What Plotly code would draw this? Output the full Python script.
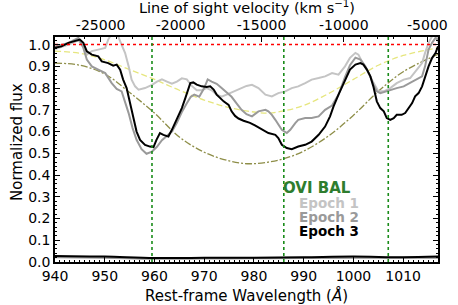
import numpy as np
import plotly.graph_objects as go

# ---------------- data ----------------
wave3 = [940.0, 941.3, 942.7, 944.0, 945.0, 945.7, 946.4, 947.4, 948.7, 949.4, 950.7, 951.7, 952.4, 953.1,
         953.7, 954.4, 955.1, 955.8, 956.4, 957.1, 958.1, 959.1, 959.8, 960.4, 961.1, 961.8, 962.8, 963.5,
         964.1, 964.8, 965.5, 966.2, 966.8, 967.2, 967.8, 968.5, 969.5, 970.5, 971.2, 971.9, 972.5, 973.2,
         973.9, 974.9, 975.5, 976.2, 976.9, 977.9, 979.2, 980.2, 981.6, 982.9, 984.3, 984.9, 985.6, 986.6,
         987.6, 988.9, 990.3, 991.6, 993.0, 994.3, 995.3, 996.0, 997.0, 998.0, 998.7, 999.3, 1000.4, 1001.4,
         1002.0, 1002.7, 1003.4, 1004.0, 1004.7, 1005.4, 1006.1, 1006.7, 1007.4, 1008.1, 1008.7, 1009.7,
         1010.4, 1011.1, 1011.8, 1012.4, 1013.1, 1013.8, 1014.4, 1015.1, 1015.8, 1016.5, 1017.0]
flux3 = [0.985, 0.992, 1.008, 1.015, 1.023, 1.008, 0.969, 0.954, 0.946, 0.923, 0.915, 0.903, 0.908, 0.885,
         0.839, 0.800, 0.731, 0.654, 0.600, 0.562, 0.539, 0.531, 0.528, 0.562, 0.593, 0.585, 0.577, 0.608,
         0.639, 0.677, 0.708, 0.754, 0.793, 0.823, 0.826, 0.816, 0.808, 0.805, 0.808, 0.793, 0.770, 0.754,
         0.739, 0.723, 0.693, 0.672, 0.660, 0.650, 0.640, 0.628, 0.608, 0.593, 0.585, 0.570, 0.539, 0.524,
         0.519, 0.531, 0.539, 0.554, 0.585, 0.623, 0.670, 0.716, 0.770, 0.823, 0.854, 0.885, 0.908, 0.915,
         0.908, 0.885, 0.854, 0.808, 0.739, 0.708, 0.693, 0.662, 0.654, 0.662, 0.677, 0.677,
         0.685, 0.708, 0.731, 0.762, 0.777, 0.808, 0.854, 0.900, 0.938, 0.961, 0.992]

wave2 = [940.0, 942.7, 944.7, 945.7, 946.4, 947.4, 948.7, 950.1, 951.4, 952.4, 953.4, 954.1, 954.8, 955.6,
         956.4, 957.4, 958.4, 959.5, 960.5, 961.5, 962.5, 963.5, 964.5, 965.5, 966.5, 967.3, 968.0, 969.0,
         970.0, 970.7, 971.5, 972.5, 973.5, 974.5, 975.5, 976.5, 977.5, 978.5, 979.6, 980.9, 982.3, 982.9,
         983.6, 984.3, 984.9, 985.6, 986.6, 987.3, 988.3, 988.9, 990.3, 991.6, 993.0, 994.3, 995.7, 997.0,
         998.3, 999.3, 1000.4, 1001.4, 1002.4, 1003.4, 1004.0, 1004.7, 1005.4, 1006.4, 1007.4, 1008.7,
         1010.1, 1011.4, 1012.8, 1013.8, 1014.4, 1015.1, 1015.8, 1016.5, 1017.0]
flux2 = [0.990, 1.008, 1.031, 0.985, 0.931, 0.900, 0.885, 0.869, 0.823, 0.796, 0.785, 0.739, 0.685, 0.616,
         0.562, 0.519, 0.498, 0.508, 0.530, 0.560, 0.580, 0.600, 0.640, 0.690, 0.730, 0.760, 0.770, 0.760,
         0.800, 0.840, 0.830, 0.820, 0.800, 0.780, 0.760, 0.730, 0.700, 0.680, 0.670, 0.693, 0.700, 0.693,
         0.677, 0.654, 0.631, 0.608, 0.593, 0.608, 0.639, 0.654, 0.662, 0.662, 0.670, 0.700, 0.720, 0.770,
         0.850, 0.905, 0.940, 0.931, 0.900, 0.854, 0.816, 0.785, 0.777, 0.785, 0.793, 0.800,
         0.808, 0.823, 0.839, 0.854, 0.900, 0.977, 1.008, 1.031, 1.023]

wave1 = [940.0, 942.7, 944.7, 945.7, 946.4, 947.4, 948.7, 950.1, 950.7, 951.4, 952.1, 952.7, 953.4, 954.1,
         954.8, 955.4, 956.1, 956.8, 958.1, 959.5, 960.5, 961.5, 962.5, 963.5, 964.5, 965.5, 966.5, 967.5,
         968.5, 969.5, 970.5, 971.5, 972.5, 973.5, 974.5, 975.5, 976.5, 977.5, 978.5, 979.6, 980.9, 982.3,
         983.6, 984.9, 986.3, 987.6, 988.9, 990.3, 991.6, 993.0, 994.3, 995.7, 997.0, 998.3, 999.3, 1000.4,
         1001.0, 1001.7, 1002.7, 1003.7, 1004.4, 1005.0, 1006.1, 1007.4, 1008.7, 1010.1, 1011.4, 1012.8,
         1013.8, 1014.4, 1015.1, 1015.8, 1016.8, 1017.0]
flux1 = [0.980, 1.000, 1.020, 0.990, 0.954, 0.970, 0.977, 0.985, 1.023, 1.050, 1.050, 1.038, 0.999, 0.961,
         0.900, 0.839, 0.808, 0.793, 0.800, 0.815, 0.830, 0.840, 0.830, 0.820, 0.830, 0.845, 0.840, 0.810,
         0.790, 0.790, 0.800, 0.790, 0.770, 0.760, 0.770, 0.780, 0.790, 0.800, 0.810, 0.815, 0.800, 0.770,
         0.762, 0.777, 0.785, 0.800, 0.808, 0.823, 0.839, 0.846, 0.854, 0.869, 0.862, 0.900, 0.939, 0.962,
         0.954, 0.923, 0.885, 0.839, 0.808, 0.785, 0.785, 0.800, 0.823, 0.839, 0.846, 0.885,
         0.915, 0.962, 1.008, 1.038, 1.054, 1.008]

# smooth fits (dashed & dash-dot)
fit_wave = [940, 945, 950, 955, 960, 965, 970, 975, 980, 983, 986, 990, 995, 1000, 1005, 1010, 1017]
fit_a = [0.970, 0.960, 0.930, 0.885, 0.840, 0.790, 0.745, 0.710, 0.690, 0.685, 0.695, 0.720, 0.775,
         0.840, 0.905, 0.950, 0.985]
fit_b_wave = [940, 945, 950, 955, 960, 965, 970, 975, 979, 983, 986, 990, 995, 1000, 1005, 1010, 1017]
fit_b = [0.915, 0.905, 0.865, 0.780, 0.685, 0.575, 0.505, 0.465, 0.452, 0.460, 0.475, 0.510, 0.580,
         0.675, 0.785, 0.875, 0.955]

# error spectra
err_wave = [940, 950, 960, 970, 980, 990, 1000, 1010, 1017]
err1 = [0.025, 0.022, 0.017, 0.018, 0.018, 0.019, 0.021, 0.020, 0.021]
err2 = [0.022, 0.020, 0.015, 0.016, 0.017, 0.018, 0.020, 0.019, 0.020]
err3 = [0.028, 0.025, 0.018, 0.020, 0.020, 0.022, 0.025, 0.022, 0.025]

trough_centers = [959.5, 986.0, 1007.0]
vel_ticks = [-25000, -20000, -15000, -10000, -5000]
vel_minor = list(range(-27000, -3000, 1000))
lambda0 = 1031.93
c_kms = 299792.458
x_range = [940, 1017]
y_range = [0, 1.035]

def vel_to_wave(v):
    b = np.asarray(v, dtype=float) / c_kms
    return lambda0 * np.sqrt((1 + b) / (1 - b))

FONT = "DejaVu Sans"
C1, C2, C3 = "#c4c4c4", "#9a9a9a", "#000000"
W, H = 458, 305
# plot area in pixels: left 55, right 438, top 37, bottom 262
ML, MR, MT, MB = 55, W - 438, 37, H - 262

fig = go.Figure()
for w, e, c in [(err_wave, err1, C1), (err_wave, err2, C2), (err_wave, err3, C3)]:
    fig.add_trace(go.Scatter(x=w, y=e, mode="lines", line=dict(color=c, width=2, shape="spline"),
                             showlegend=False, hoverinfo="skip"))
fig.add_trace(go.Scatter(x=fit_wave, y=fit_a, mode="lines",
                         line=dict(color="#e6e67e", width=1.3, dash="6px,3px", shape="spline"),
                         showlegend=False))
fig.add_trace(go.Scatter(x=fit_b_wave, y=fit_b, mode="lines",
                         line=dict(color="#8e8e48", width=1.3, dash="7px,2px,2px,2px", shape="spline"),
                         showlegend=False))
fig.add_trace(go.Scatter(x=wave1, y=flux1, mode="lines", line=dict(color=C1, width=2), name="Epoch 1",
                         showlegend=False))
fig.add_trace(go.Scatter(x=wave2, y=flux2, mode="lines", line=dict(color=C2, width=2), name="Epoch 2",
                         showlegend=False))
fig.add_trace(go.Scatter(x=wave3, y=flux3, mode="lines", line=dict(color=C3, width=2), name="Epoch 3",
                         showlegend=False))
fig.add_trace(go.Scatter(x=x_range, y=[1.0, 1.0], xaxis="x2", yaxis="y", mode="lines",
                         line=dict(color="red", width=1.5, dash="dot"), showlegend=False))

for tc in trough_centers:
    fig.add_shape(type="line", xref="x", yref="paper", x0=tc, x1=tc, y0=0, y1=1,
                  line=dict(color="#1a8c1a", width=1.6, dash="dot"))

axis_common = dict(showline=True, linecolor="black", linewidth=1.5, ticks="inside",
                   tickcolor="black", tickfont=dict(family=FONT, size=14, color="black"),
                   showgrid=False, zeroline=False, automargin=False)

fig.update_layout(
    width=W, height=H,
    margin=dict(l=ML, r=MR, t=MT, b=MB, autoexpand=False),
    paper_bgcolor="white", plot_bgcolor="white",
    font=dict(family=FONT, size=14, color="black"),
    xaxis=dict(range=x_range, dtick=10, tick0=940, ticklen=5, mirror=True,
               minor=dict(dtick=1, ticklen=2.5, ticks="inside", tickcolor="black"),
               **axis_common),
    xaxis2=dict(range=x_range, overlaying="x", side="top", tickmode="array",
                tickvals=list(vel_to_wave(vel_ticks)), ticktext=[str(v) for v in vel_ticks],
                ticklen=5,
                minor=dict(tickmode="array", tickvals=list(vel_to_wave(vel_minor)), ticklen=2.5,
                           ticks="inside", tickcolor="black"),
                **axis_common),
    yaxis=dict(range=y_range, dtick=0.1, tick0=0, tickformat=".1f", ticklen=5, mirror="ticks",
               minor=dict(dtick=0.02, ticklen=2.5, ticks="inside", tickcolor="black"),
               **axis_common),
)

def px_to_paper(px, py):
    return (px - ML) / (W - ML - MR), (H - MB - py) / (H - MT - MB)

titles = [("Rest-frame Wavelength (<i>Å</i>)", 247, 295, 0, 15),
          ("Line of sight velocity (km s<sup>−1</sup>)", 247, 7, 0, 14.5),
          ("Normalized flux", 17, 142, -90, 15)]
for txt, px, py, ang, fs in titles:
    xp, yp = px_to_paper(px, py)
    fig.add_annotation(x=xp, y=yp, xref="paper", yref="paper", text=txt, showarrow=False,
                       xanchor="center", yanchor="middle", textangle=ang,
                       font=dict(family=FONT, size=fs, color="black"))

legend_items = [("OVI BAL", "#2e7d2e", 353, 188, 15),
                ("Epoch 1", C1, 361, 203, 13.5),
                ("Epoch 2", C2, 361, 217, 13.5),
                ("Epoch 3", C3, 361, 231, 13.5)]
for txt, col, px, py, fs in legend_items:
    xp, yp = px_to_paper(px, py)
    fig.add_annotation(x=xp, y=yp, xref="paper", yref="paper", text="<b>%s</b>" % txt,
                       showarrow=False, xanchor="right", yanchor="middle",
                       font=dict(family=FONT, size=fs, color=col))

# remove the default page margin so the figure sits at the window's top-left corner
fig.write_html("out.html", config={"displayModeBar": False},
               post_script="document.body.style.margin='0';document.body.style.padding='0';"
                           "document.documentElement.style.overflow='hidden';")
